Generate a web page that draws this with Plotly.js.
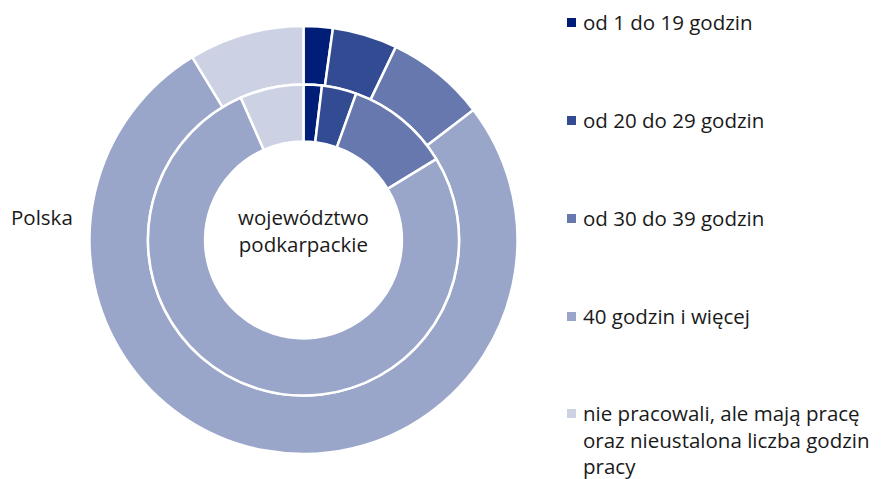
<!DOCTYPE html>
<html>
<head>
<meta charset="utf-8">
<script src="https://cdn.plot.ly/plotly-3.0.1.min.js"></script>
<style>html,body{margin:0;padding:0;background:#fff;}#chart{width:896px;height:479px;}</style>
</head>
<body>
<div id="chart"></div>
<script>
var categories = [
  "od 1 do 19 godzin",
  "od 20 do 29 godzin",
  "od 30 do 39 godzin",
  "40 godzin i więcej",
  "nie pracowali, ale mają pracę<br>oraz nieustalona liczba godzin<br>pracy"
];
var polskaValues = [2.2, 4.9, 7.5, 76.7, 8.7];
var podkarpackieValues = [1.9, 3.6, 10.8, 77.1, 6.6];
var colors = ["#001E78", "#334B93", "#6678AD", "#99A5C9", "#CCD2E4"];
var outerName = "Polska";
var innerName = "województwo<br>podkarpackie";

var W = 896, H = 479;
var FONT = "Open Sans, Noto Sans, sans-serif";
var FS = 20.5;

function px2paperX(x){ return x / W; }
function px2paperY(y){ return 1 - y / H; }

var outer = {
  type: "pie", name: outerName, labels: categories, values: polskaValues,
  sort: false, direction: "clockwise", rotation: 0,
  hole: 0.727, textinfo: "none", hoverinfo: "label+value",
  marker: {colors: colors, line: {color: "#ffffff", width: 2.5}},
  domain: {x: [px2paperX(89.5), px2paperX(517.5)], y: [px2paperY(454), px2paperY(26)]},
  showlegend: false
};
var inner = {
  type: "pie", name: "województwo podkarpackie", labels: categories, values: podkarpackieValues,
  sort: false, direction: "clockwise", rotation: 0,
  hole: 0.633, textinfo: "none", hoverinfo: "label+value",
  marker: {colors: colors, line: {color: "#ffffff", width: 2.5}},
  domain: {x: [px2paperX(148), px2paperX(459)], y: [px2paperY(395.5), px2paperY(84.5)]},
  showlegend: false
};

var annotations = [
  {text: outerName, x: px2paperX(9), y: px2paperY(217), xref: "paper", yref: "paper",
   xanchor: "left", yanchor: "middle", showarrow: false, font: {family: FONT, size: FS, color: "#1a1a1a"}},
  {text: innerName, x: px2paperX(303.5), y: px2paperY(231), xref: "paper", yref: "paper",
   xanchor: "center", yanchor: "middle", align: "center", showarrow: false, font: {family: FONT, size: FS, color: "#1a1a1a"}}
];
var shapes = [];
var legendY = [22, 120, 218, 316, 413];
for (var i = 0; i < categories.length; i++) {
  var nLines = categories[i].split("<br>").length;
  annotations.push({
    text: categories[i], x: px2paperX(581), y: px2paperY(legendY[i] + (nLines - 1) * 13.3), xref: "paper", yref: "paper",
    xanchor: "left", yanchor: "middle", align: "left", showarrow: false,
    font: {family: FONT, size: FS, color: "#1a1a1a"}
  });
  shapes.push({
    type: "rect", xref: "paper", yref: "paper",
    x0: px2paperX(567), x1: px2paperX(576), y0: px2paperY(legendY[i] + 5), y1: px2paperY(legendY[i] - 4),
    fillcolor: colors[i], line: {width: 0}
  });
}

var layout = {
  width: W, height: H,
  margin: {l: 0, r: 0, t: 0, b: 0},
  paper_bgcolor: "#ffffff",
  showlegend: false,
  annotations: annotations,
  shapes: shapes,
  font: {family: FONT}
};
Plotly.newPlot("chart", [outer, inner], layout, {displayModeBar: false, staticPlot: true});
</script>
</body>
</html>
